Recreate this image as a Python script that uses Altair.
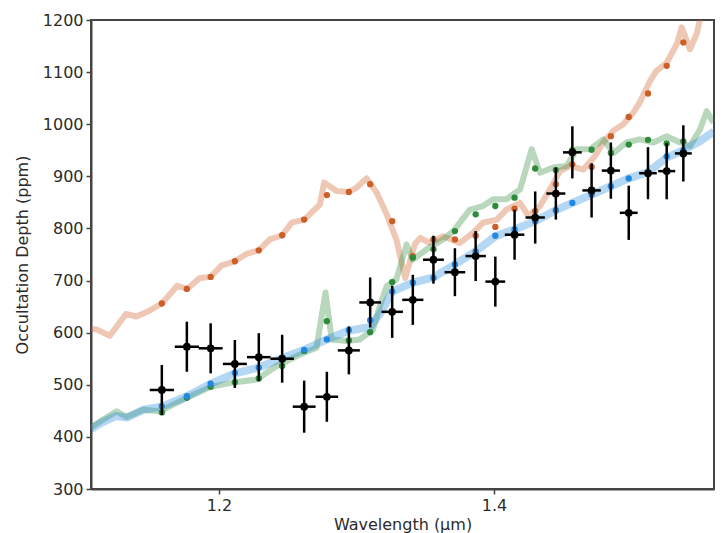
import altair as alt
import pandas as pd

# ---------------- data ----------------
wl = [1.1585, 1.1767, 1.1940, 1.2116, 1.2290, 1.2460, 1.2620, 1.2785, 1.2945,
      1.3100, 1.3260, 1.3410, 1.3560, 1.3716, 1.3867, 1.4010, 1.4150, 1.4300,
      1.4450, 1.4570, 1.4710, 1.4850, 1.4980, 1.5120, 1.5256, 1.5377]
depth = [490, 573, 570, 540, 553, 550, 458, 477, 566, 658, 640, 663, 740,
         716, 747, 698, 788, 821, 867, 946, 873, 911, 830, 906, 910, 944]
depth_err = [48, 48, 48, 46, 46, 46, 50, 48, 46, 48, 50, 48, 46, 46, 48, 48,
             48, 50, 50, 50, 52, 54, 52, 50, 54, 54]
wl_err = [0.0088, 0.0088, 0.0087, 0.0087, 0.0086, 0.0085, 0.0083, 0.0082,
          0.0080, 0.0079, 0.0078, 0.0077, 0.0076, 0.0075, 0.0074, 0.0072,
          0.0071, 0.0070, 0.0069, 0.0068, 0.0067, 0.0066, 0.0065, 0.0064,
          0.0062, 0.0061]

orange_bin = [656, 684, 707, 737, 758, 787, 817, 864, 870, 885, 814, 747, 779,
              779, 786, 803, 838, 833, 885, 923, 918, 977, 1014, 1059, 1112, 1157]
green_bin = [447, 475, 496, 505, 512, 536, 565, 622, 585, 601, 697, 744, 760,
             795, 827, 843, 859, 915, 912, 950, 951, 945, 961, 970, 963, 967]
blue_bin = [459, 478, 502, 523, 533, 551, 567, 587, 605, 624, 679, 696, 705,
            731, 756, 786, 798, 814, 835, 849, 865, 881, 896, 906, 938, 950]

orange_wl = [1.107, 1.111, 1.1207, 1.1324, 1.140, 1.1486, 1.1585, 1.1697, 1.177,
             1.186, 1.194, 1.202, 1.2116, 1.220, 1.229, 1.237, 1.246, 1.2529,
             1.262, 1.2735, 1.2765, 1.2856, 1.2945, 1.300, 1.3074, 1.3147, 1.322,
             1.329, 1.3355, 1.3425, 1.3465, 1.3535, 1.363, 1.375, 1.385, 1.392,
             1.402, 1.409, 1.419, 1.425, 1.4335, 1.4407, 1.448, 1.4553, 1.465,
             1.4735, 1.4795, 1.487, 1.494, 1.5013, 1.506, 1.5135, 1.518, 1.5256,
             1.533, 1.5365, 1.5425, 1.5474, 1.553, 1.556]
orange_model = [607, 606, 594, 636, 631, 641, 656, 690, 684, 705, 707, 729, 737,
                751, 758, 779, 787, 811, 817, 846, 888, 872, 870, 878, 896, 869,
                827, 779, 705, 770, 782, 772, 785, 772, 792, 811, 817, 836, 849,
                824, 843, 875, 910, 920, 913, 939, 965, 988, 1000, 1022, 1042,
                1083, 1102, 1118, 1154, 1186, 1144, 1173, 1240, 1270]

green_wl = [1.107, 1.115, 1.1256, 1.133, 1.145, 1.157, 1.1767, 1.194, 1.2116,
            1.2274, 1.242, 1.259, 1.271, 1.2775, 1.282, 1.293, 1.3025, 1.312,
            1.317, 1.322, 1.329, 1.3365, 1.341, 1.351, 1.363, 1.3705, 1.3825,
            1.392, 1.3995, 1.409, 1.419, 1.4274, 1.4335, 1.443, 1.453, 1.460,
            1.470, 1.4795, 1.487, 1.4965, 1.506, 1.516, 1.5256, 1.5353, 1.5425,
            1.5498, 1.5547, 1.5596]
green_model = [418, 432, 449, 438, 452, 449, 475, 496, 505, 510, 536, 558, 571,
               677, 587, 584, 587, 606, 651, 689, 702, 769, 740, 760, 779, 795,
               836, 843, 856, 856, 875, 952, 907, 917, 920, 952, 952, 971, 945,
               965, 971, 965, 977, 965, 958, 990, 1025, 1003]

blue_wl = [1.107, 1.115, 1.125, 1.133, 1.145, 1.1585, 1.1767, 1.194, 1.2116,
           1.229, 1.246, 1.262, 1.2785, 1.2945, 1.31, 1.318, 1.326, 1.341,
           1.356, 1.3716, 1.3867, 1.401, 1.415, 1.43, 1.445, 1.457, 1.471,
           1.485, 1.498, 1.512, 1.5256, 1.5377, 1.55, 1.56]
blue_model = [415, 428, 440, 437, 452, 458, 478, 502, 522, 533, 551, 567, 587,
              604, 611, 640, 679, 696, 706, 731, 756, 785, 798, 814, 835, 849,
              865, 881, 896, 908, 936, 950, 968, 986]

x_ticks = [1.2, 1.4]
y_ticks = [300, 400, 500, 600, 700, 800, 900, 1000, 1100, 1200]
x_domain = [1.107, 1.56]
y_domain = [300, 1200]

C_ORANGE = "#cc5f27"
C_GREEN = "#2e8b3a"
C_BLUE = "#2389e0"

# ---------------- frames ----------------
obs = pd.DataFrame({"wl": wl, "depth": depth, "de": depth_err, "we": wl_err})
obs["xlo"] = obs["wl"] - obs["we"]
obs["xhi"] = obs["wl"] + obs["we"]
obs["ylo"] = obs["depth"] - obs["de"]
obs["yhi"] = obs["depth"] + obs["de"]

bins = pd.DataFrame({"wl": wl, "orange": orange_bin, "green": green_bin, "blue": blue_bin})
orange_df = pd.DataFrame({"wl": orange_wl, "depth": orange_model})
green_df = pd.DataFrame({"wl": green_wl, "depth": green_model})
blue_df = pd.DataFrame({"wl": blue_wl, "depth": blue_model})

xs = alt.Scale(domain=x_domain, nice=False, zero=False)
ys = alt.Scale(domain=y_domain, nice=False, zero=False)

X = alt.X("wl:Q", scale=xs,
          axis=alt.Axis(values=x_ticks, format=".1f", title="Wavelength (μm)"))
Y = alt.Y("depth:Q", scale=ys,
          axis=alt.Axis(values=y_ticks, format="d", title="Occultation Depth (ppm)"))


def model_line(df, color, width):
    return alt.Chart(df).mark_line(
        color=color, strokeWidth=width, opacity=0.34, clip=True,
        strokeJoin="round", strokeCap="butt"
    ).encode(x=X, y=Y)


def bin_dots(col, color):
    return alt.Chart(bins).mark_circle(color=color, size=40, opacity=1).encode(
        x=X, y=alt.Y(f"{col}:Q", scale=ys))


lines = [
    model_line(orange_df, C_ORANGE, 6),
    model_line(green_df, C_GREEN, 6),
    model_line(blue_df, C_BLUE, 8),
]
dots = [
    bin_dots("orange", C_ORANGE),
    bin_dots("green", C_GREEN),
    bin_dots("blue", C_BLUE),
]

xbar = alt.Chart(obs).mark_rule(color="black", strokeWidth=2.5).encode(
    x=alt.X("xlo:Q", scale=xs), x2="xhi:Q", y=alt.Y("depth:Q", scale=ys))
ybar = alt.Chart(obs).mark_rule(color="black", strokeWidth=2.5).encode(
    x=alt.X("wl:Q", scale=xs), y=alt.Y("ylo:Q", scale=ys), y2="yhi:Q")
pts = alt.Chart(obs).mark_circle(color="black", size=60, opacity=1).encode(x=X, y=Y)

chart = alt.layer(*lines, *dots, xbar, ybar, pts).properties(
    width=623, height=469,
    autosize=alt.AutoSizeParams(type="none"),
    padding={"left": 83, "top": 12, "right": 6, "bottom": 44},
    background="white",
).configure_view(
    stroke="#444444", strokeWidth=2
).configure_axis(
    grid=False,
    domainColor="#444444", domainWidth=2,
    tickColor="#444444", tickWidth=1.5, tickSize=5,
    labelFont="DejaVu Sans", labelFontSize=16, labelColor="#2b2b2b",
    labelPadding=3,
    titleFont="DejaVu Sans", titleFontSize=16, titleColor="#2b2b2b",
    titleFontWeight="normal",
).configure_axisY(
    titlePadding=12
).configure_axisX(
    titlePadding=3
)

chart.save("out.html", embed_options={"renderer": "svg", "actions": False})
